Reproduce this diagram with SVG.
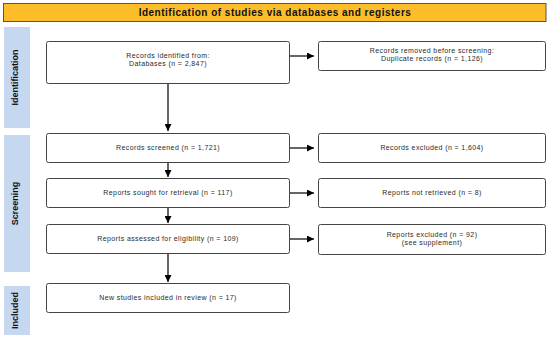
<svg xmlns="http://www.w3.org/2000/svg" width="550" height="339" viewBox="0 0 550 339">
<defs>
<marker id="ah" viewBox="0 0 10 10" refX="10" refY="5" markerWidth="7" markerHeight="7" markerUnits="userSpaceOnUse" orient="auto">
<path d="M0,0 L10,5 L0,10 z" fill="#000"/>
</marker>
<style>
.box{fill:#fff;stroke:#444;stroke-width:1}
.bar{fill:#c5d8ef}
.t{font-family:"Liberation Sans",Arial,sans-serif;font-size:7px;letter-spacing:0.4px;fill:#2a2a2a;text-anchor:middle}
.side{font-family:"Liberation Sans",Arial,sans-serif;font-size:9px;font-weight:bold;fill:#111;text-anchor:middle}
.head{font-family:"Liberation Sans",Arial,sans-serif;font-size:10px;font-weight:bold;letter-spacing:0.5px;fill:#111;text-anchor:middle}
.con{stroke:#000;stroke-width:1.2;fill:none}
</style>
</defs>
<rect width="550" height="339" fill="#fff"/>
<g id="header">
<rect x="3.5" y="3.5" width="542.5" height="18" fill="#fdbd2b" stroke="#555" stroke-width="1"/>
<text x="275" y="16" class="head">Identification of studies via databases and registers</text>
</g>
<g id="phase-identification">
<rect class="bar" x="4" y="27" width="26" height="101"/>
<text class="side" transform="translate(18,77.5) rotate(-90)">Identification</text>
</g>
<g id="phase-screening">
<rect class="bar" x="4" y="135" width="26" height="137"/>
<text class="side" transform="translate(18,203.5) rotate(-90)">Screening</text>
</g>
<g id="phase-included">
<rect class="bar" x="4" y="286" width="26" height="49"/>
<text class="side" transform="translate(18,310.5) rotate(-90)">Included</text>
</g>
<g id="records-identified">
<rect class="box" x="46.5" y="41.5" width="243" height="42" rx="2"/>
<text class="t" x="168" y="58">Records identified from:</text>
<text class="t" x="168" y="66">Databases (n = 2,847)</text>
</g>
<g id="records-removed">
<rect class="box" x="318.5" y="41.5" width="227" height="29" rx="2"/>
<text class="t" x="432" y="53">Records removed before screening:</text>
<text class="t" x="432" y="61">Duplicate records (n = 1,126)</text>
</g>
<g id="records-screened">
<rect class="box" x="46.5" y="133.5" width="243" height="29" rx="2"/>
<text class="t" x="168" y="150">Records screened (n = 1,721)</text>
</g>
<g id="records-excluded">
<rect class="box" x="318.5" y="133.5" width="227" height="29" rx="2"/>
<text class="t" x="432" y="150">Records excluded (n = 1,604)</text>
</g>
<g id="reports-sought">
<rect class="box" x="46.5" y="178.5" width="243" height="29" rx="2"/>
<text class="t" x="168" y="195">Reports sought for retrieval (n = 117)</text>
</g>
<g id="reports-not-retrieved">
<rect class="box" x="318.5" y="178.5" width="227" height="29" rx="2"/>
<text class="t" x="432" y="195">Reports not retrieved (n = 8)</text>
</g>
<g id="reports-assessed">
<rect class="box" x="46.5" y="224.5" width="243" height="29" rx="2"/>
<text class="t" x="168" y="241">Reports assessed for eligibility (n = 109)</text>
</g>
<g id="reports-excluded">
<rect class="box" x="318.5" y="224.5" width="227" height="30" rx="2"/>
<text class="t" x="432" y="237">Reports excluded (n = 92)</text>
<text class="t" x="432" y="245">(see supplement)</text>
</g>
<g id="studies-included">
<rect class="box" x="46.5" y="283.5" width="243" height="29" rx="2"/>
<text class="t" x="168" y="300">New studies included in review (n = 17)</text>
</g>
<g id="connectors">
<line class="con" x1="168" y1="84" x2="168" y2="131" marker-end="url(#ah)"/>
<line class="con" x1="168" y1="163" x2="168" y2="177" marker-end="url(#ah)"/>
<line class="con" x1="168" y1="208" x2="168" y2="223" marker-end="url(#ah)"/>
<line class="con" x1="168" y1="254" x2="168" y2="282" marker-end="url(#ah)"/>
<line class="con" x1="290" y1="56" x2="314" y2="56" marker-end="url(#ah)"/>
<line class="con" x1="290" y1="148" x2="314" y2="148" marker-end="url(#ah)"/>
<line class="con" x1="290" y1="193" x2="314" y2="193" marker-end="url(#ah)"/>
<line class="con" x1="290" y1="239" x2="314" y2="239" marker-end="url(#ah)"/>
</g>
</svg>
